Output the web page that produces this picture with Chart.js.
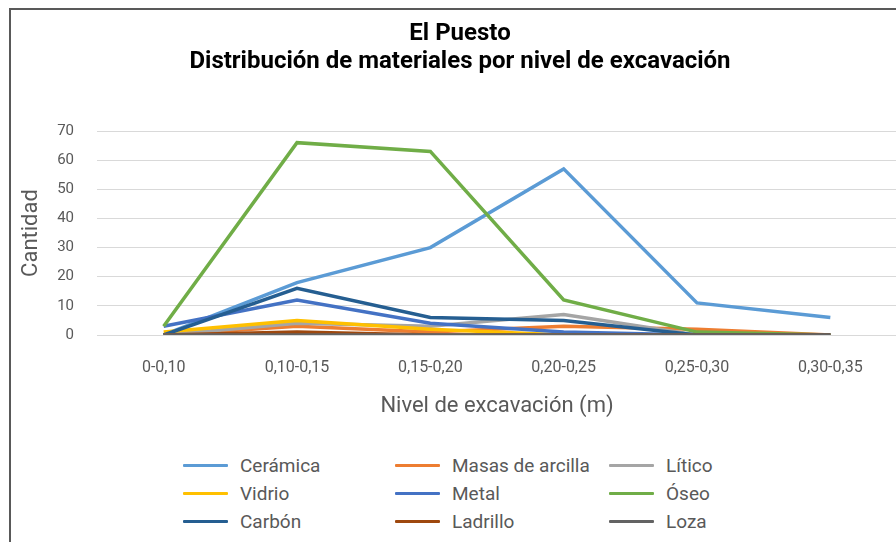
<!DOCTYPE html>
<html>
<head>
<meta charset="utf-8">
<script src="https://cdn.jsdelivr.net/npm/chart.js@4"></script>
<style>
  html, body { margin: 0; padding: 0; background: #fff; overflow: hidden; }
  #frame {
    position: absolute; left: 9px; top: 8px; width: 904px; height: 600px;
    border-left: 2px solid #595959; border-top: 2px solid #595959;
    font-family: Roboto, sans-serif;
  }
  #chart { position: absolute; left: 0; top: 0; }
  #legend {
    position: absolute; left: 172px; top: 441px;
    display: grid; grid-template-columns: 212px 214px 212px; grid-auto-rows: 28px;
  }
  .item { display: flex; align-items: center; font-size: 19px; color: #595959; white-space: nowrap; }
  .swatch { display: inline-block; width: 45px; height: 3px; margin-right: 12px; border-radius: 1px; }
</style>
</head>
<body>
<div id="frame">
  <canvas id="chart" width="904" height="430"></canvas>
  <div id="legend"></div>
</div>
<script>
    var levels = "0-0,10, 0,10-0,15, 0,15-0,20, 0,20-0,25, 0,25-0,30, 0,30-0,35".split(", ");
    var yTicks = [0, 10, 20, 30, 40, 50, 60, 70];

    var ceramica = [0, 18, 30, 57, 11, 6];
    var masas    = [0, 3, 1, 3, 2, 0];
    var litico   = [0, 4, 3, 7, 0, 0];
    var vidrio   = [1, 5, 2, 0, 0, 0];
    var metal    = [3, 12, 4, 1, 0, 0];
    var oseo     = [3, 66, 63, 12, 1, 0];
    var carbon   = [0, 16, 6, 5, 0, 0];
    var ladrillo = [0, 1, 0, 0, 0, 0];
    var loza     = [0, 0, 0, 0, 0, 0];

    var series = [
        ["Cerámica", ceramica, "#5B9BD5"],
        ["Masas de arcilla", masas, "#ED7D31"],
        ["Lítico", litico, "#A5A5A5"],
        ["Vidrio", vidrio, "#FFC000"],
        ["Metal", metal, "#4472C4"],
        ["Óseo", oseo, "#70AD47"],
        ["Carbón", carbon, "#255E91"],
        ["Ladrillo", ladrillo, "#9E480E"],
        ["Loza", loza, "#636363"]
    ];

    Chart.defaults.font.family = "Roboto, sans-serif";
    Chart.defaults.color = "#595959";

    var datasets = series.map(function(s, i) {
        return {
            label: s[0], data: s[1],
            borderColor: s[2], backgroundColor: s[2],
            borderWidth: 3.5, pointRadius: 0, tension: 0,
            order: series.length - i   // last series drawn on top, like the original
        };
    });

    var ctx = document.getElementById("chart");
    var myChart = new Chart(ctx, {
        type: 'line',
        data: {labels: levels, datasets: datasets},
        options: {
            responsive: false,
            animation: false,
            layout: {padding: {left: 12, right: 18, top: 0, bottom: 0}},
            plugins: {
                legend: {display: false},
                tooltip: {enabled: false},
                title: {
                    display: true,
                    text: ["El Puesto", "Distribución de materiales por nivel de excavación"],
                    color: "#000",
                    font: {size: 24, weight: 'bold', lineHeight: 1.1667},
                    padding: {top: 10, bottom: 55}
                }
            },
            scales: {
                x: {
                    offset: true,
                    grid: {display: false},
                    border: {display: false},
                    ticks: {font: {size: 16}, padding: 15, maxRotation: 0},
                    title: {display: true, text: "Nivel de excavación (m)", font: {size: 22}, padding: {top: 19, bottom: 20}},
                    afterFit: function(scale) { scale.height = 105; }
                },
                y: {
                    min: 0, max: 70,
                    afterBuildTicks: function(scale) {
                        scale.ticks = yTicks.map(function(v) { return {value: v}; });
                    },
                    grid: {color: "#D9D9D9", lineWidth: 1, drawTicks: false},
                    border: {display: false},
                    ticks: {font: {size: 15}, padding: 23},
                    title: {display: true, text: "Cantidad", font: {size: 22}, padding: {top: -5, bottom: 10}},
                    afterFit: function(scale) { scale.width = 74; }
                }
            }
        }
    });

    // legend in three columns, as in the original
    var legend = document.getElementById("legend");
    series.forEach(function(s) {
        var item = document.createElement("div");
        item.className = "item";
        var sw = document.createElement("span");
        sw.className = "swatch";
        sw.style.background = s[2];
        item.appendChild(sw);
        item.appendChild(document.createTextNode(s[0]));
        legend.appendChild(item);
    });
</script>
</body>
</html>
